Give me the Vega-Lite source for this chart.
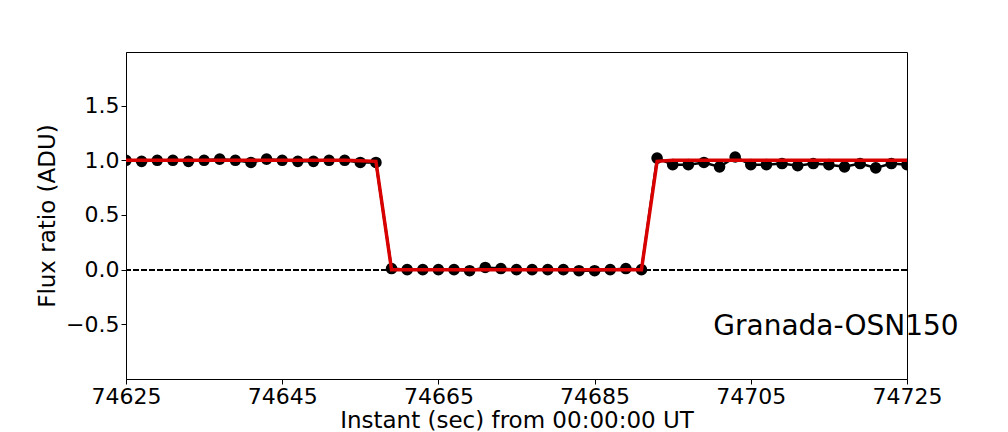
{
  "$schema": "https://vega.github.io/schema/vega-lite/v6.json",
  "width": 781,
  "height": 327,
  "autosize": {"type": "none"},
  "padding": {"left": 126, "top": 52, "right": 101, "bottom": 53},
  "background": "white",
  "config": {
    "font": "DejaVu Sans",
    "view": {"stroke": "black", "strokeWidth": 1},
    "axis": {
      "grid": false,
      "domainColor": "black",
      "tickColor": "black",
      "labelColor": "black",
      "titleColor": "black",
      "labelFont": "DejaVu Sans",
      "titleFont": "DejaVu Sans",
      "labelFontSize": 22,
      "titleFontSize": 23,
      "titleFontWeight": "normal",
      "tickSize": 5,
      "labelPadding": 2,
      "labelFlush": false,
      "labelOverlap": false
    }
  },
  "datasets": {
    "lc": [
      {"t": 74625, "flux": 1.00, "model": 1.0},
      {"t": 74627, "flux": 0.99, "model": 1.0},
      {"t": 74629, "flux": 1.00, "model": 1.0},
      {"t": 74631, "flux": 1.00, "model": 1.0},
      {"t": 74633, "flux": 0.99, "model": 1.0},
      {"t": 74635, "flux": 1.00, "model": 1.0},
      {"t": 74637, "flux": 1.01, "model": 1.0},
      {"t": 74639, "flux": 1.00, "model": 1.0},
      {"t": 74641, "flux": 0.98, "model": 1.0},
      {"t": 74643, "flux": 1.01, "model": 1.0},
      {"t": 74645, "flux": 1.00, "model": 1.0},
      {"t": 74647, "flux": 0.99, "model": 1.0},
      {"t": 74649, "flux": 0.99, "model": 1.0},
      {"t": 74651, "flux": 1.00, "model": 1.0},
      {"t": 74653, "flux": 1.00, "model": 1.0},
      {"t": 74655, "flux": 0.98, "model": 0.995},
      {"t": 74657, "flux": 0.98, "model": 0.99},
      {"t": 74659, "flux": 0.01, "model": 0.0},
      {"t": 74661, "flux": 0.00, "model": 0.0},
      {"t": 74663, "flux": 0.00, "model": 0.0},
      {"t": 74665, "flux": 0.00, "model": 0.0},
      {"t": 74667, "flux": 0.00, "model": 0.0},
      {"t": 74669, "flux": -0.01, "model": 0.0},
      {"t": 74671, "flux": 0.02, "model": 0.0},
      {"t": 74673, "flux": 0.01, "model": 0.0},
      {"t": 74675, "flux": 0.00, "model": 0.0},
      {"t": 74677, "flux": 0.00, "model": 0.0},
      {"t": 74679, "flux": 0.00, "model": 0.0},
      {"t": 74681, "flux": 0.00, "model": 0.0},
      {"t": 74683, "flux": -0.01, "model": 0.0},
      {"t": 74685, "flux": -0.01, "model": 0.0},
      {"t": 74687, "flux": 0.00, "model": 0.0},
      {"t": 74689, "flux": 0.01, "model": 0.0},
      {"t": 74691, "flux": 0.00, "model": 0.0},
      {"t": 74693, "flux": 1.02, "model": 0.99},
      {"t": 74695, "flux": 0.96, "model": 1.0},
      {"t": 74697, "flux": 0.96, "model": 1.0},
      {"t": 74699, "flux": 0.98, "model": 1.0},
      {"t": 74701, "flux": 0.94, "model": 1.0},
      {"t": 74703, "flux": 1.03, "model": 1.0},
      {"t": 74705, "flux": 0.96, "model": 1.0},
      {"t": 74707, "flux": 0.96, "model": 1.0},
      {"t": 74709, "flux": 0.97, "model": 1.0},
      {"t": 74711, "flux": 0.95, "model": 1.0},
      {"t": 74713, "flux": 0.97, "model": 1.0},
      {"t": 74715, "flux": 0.96, "model": 1.0},
      {"t": 74717, "flux": 0.94, "model": 1.0},
      {"t": 74719, "flux": 0.97, "model": 1.0},
      {"t": 74721, "flux": 0.93, "model": 1.0},
      {"t": 74723, "flux": 0.97, "model": 1.0},
      {"t": 74725, "flux": 0.96, "model": 1.0}
    ],
    "label": [
      {"t": 74700.2, "y": -0.52, "text": "Granada-OSN150"}
    ]
  },
  "data": {"name": "lc"},
  "encoding": {
    "x": {
      "field": "t",
      "type": "quantitative",
      "scale": {"domain": [74625, 74725], "nice": false, "zero": false},
      "axis": {
        "values": [74625, 74645, 74665, 74685, 74705, 74725],
        "format": "d",
        "title": "Instant (sec) from 00:00:00 UT",
        "titlePadding": 2
      }
    }
  },
  "layer": [
    {
      "mark": {"type": "rule", "color": "black", "strokeWidth": 1.5, "strokeDash": [5.5, 2.5]},
      "encoding": {"y": {"datum": 0, "type": "quantitative"}, "x": null}
    },
    {
      "mark": {"type": "line", "color": "black", "strokeWidth": 2.5, "clip": true},
      "encoding": {
        "y": {
          "field": "flux",
          "type": "quantitative",
          "scale": {"domain": [-1.0, 1.99], "nice": false, "zero": false},
          "axis": {
            "values": [-0.5, 0, 0.5, 1, 1.5],
            "format": ".1f",
            "title": "Flux ratio (ADU)",
            "titlePadding": 6
          }
        }
      }
    },
    {
      "mark": {"type": "point", "filled": true, "shape": "circle", "color": "black", "size": 135, "opacity": 1, "clip": true},
      "encoding": {"y": {"field": "flux", "type": "quantitative"}}
    },
    {
      "mark": {"type": "line", "color": "#d90000", "strokeWidth": 3.5, "clip": true},
      "encoding": {"y": {"field": "model", "type": "quantitative"}}
    },
    {
      "data": {"name": "label"},
      "mark": {"type": "text", "align": "left", "baseline": "middle", "fontSize": 28, "font": "DejaVu Sans", "color": "black"},
      "encoding": {
        "x": {"field": "t", "type": "quantitative"},
        "y": {"field": "y", "type": "quantitative"},
        "text": {"field": "text"}
      }
    }
  ]
}
